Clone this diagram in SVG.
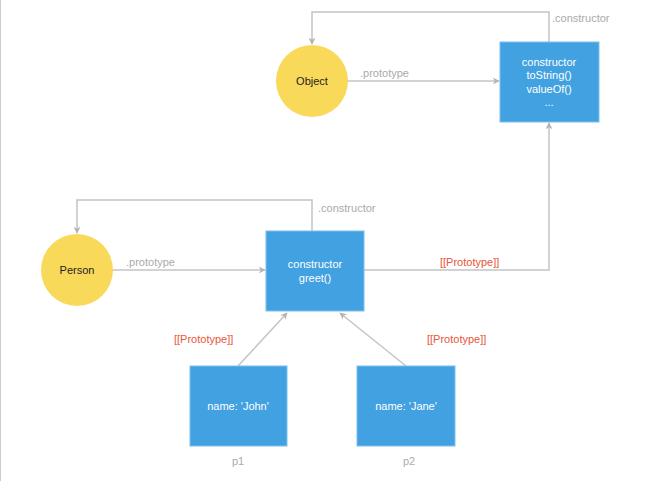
<svg xmlns="http://www.w3.org/2000/svg" width="663" height="481" viewBox="0 0 663 481">
<style>
text{font-family:"Liberation Sans",Arial,sans-serif;font-size:11px}
.c{fill:#f9d95a}
.b{fill:#42a1e0;stroke:#7cc0ee;stroke-width:1}
.w{fill:#fff;text-anchor:middle}
.k{fill:#222;text-anchor:middle}
.g{fill:#aaa}
.r{fill:#e8553a}
.l{fill:none;stroke:#c4c4c4;stroke-width:1.5;marker-end:url(#a)}
</style>
<defs><marker id="a" viewBox="0 0 10 10" refX="9" refY="5" markerWidth="7" markerHeight="7" orient="auto" markerUnits="userSpaceOnUse"><path d="M0,0L10,5L0,10L3,5Z" fill="#b4b4b4"/></marker></defs>
<rect width="663" height="481" fill="#fff"/>
<line x1="0.5" y1="0" x2="0.5" y2="481" stroke="#ccc"/>
<g id="connectors">
<path class="l" d="M549,42V12H312V44"/>
<path class="l" d="M348,81H499"/>
<path class="l" d="M312,231V200H77V233"/>
<path class="l" d="M113,270H265"/>
<path class="l" d="M364,270H549V123"/>
<path class="l" d="M238,366L287,313"/>
<path class="l" d="M406,366L340,313"/>
<text class="g" x="552" y="22">.constructor</text>
<text class="g" x="360" y="77">.prototype</text>
<text class="g" x="318" y="212">.constructor</text>
<text class="g" x="126" y="266">.prototype</text>
<text class="r" x="440" y="266">[[Prototype]]</text>
<text class="r" x="174" y="343">[[Prototype]]</text>
<text class="r" x="427" y="343">[[Prototype]]</text>
</g>
<g id="object"><circle class="c" cx="312" cy="81" r="36"/><text class="k" x="312" y="85">Object</text></g>
<g id="objproto"><rect class="b" x="500" y="42" width="99" height="80"/>
<text class="w" x="549" y="66">constructor</text><text class="w" x="549" y="79">toString()</text><text class="w" x="549" y="93">valueOf()</text><text class="w" x="549" y="106">...</text></g>
<g id="person"><circle class="c" cx="77" cy="270" r="36"/><text class="k" x="77" y="274">Person</text></g>
<g id="personproto"><rect class="b" x="266" y="231" width="98" height="80"/>
<text class="w" x="315" y="268">constructor</text><text class="w" x="315" y="282">greet()</text></g>
<g id="p1"><rect class="b" x="190" y="366" width="97" height="80"/><text class="w" x="238" y="410">name: 'John'</text><text class="g" x="238" y="465" text-anchor="middle">p1</text></g>
<g id="p2"><rect class="b" x="357" y="366" width="98" height="80"/><text class="w" x="406" y="410">name: 'Jane'</text><text class="g" x="409" y="465" text-anchor="middle">p2</text></g>
</svg>
